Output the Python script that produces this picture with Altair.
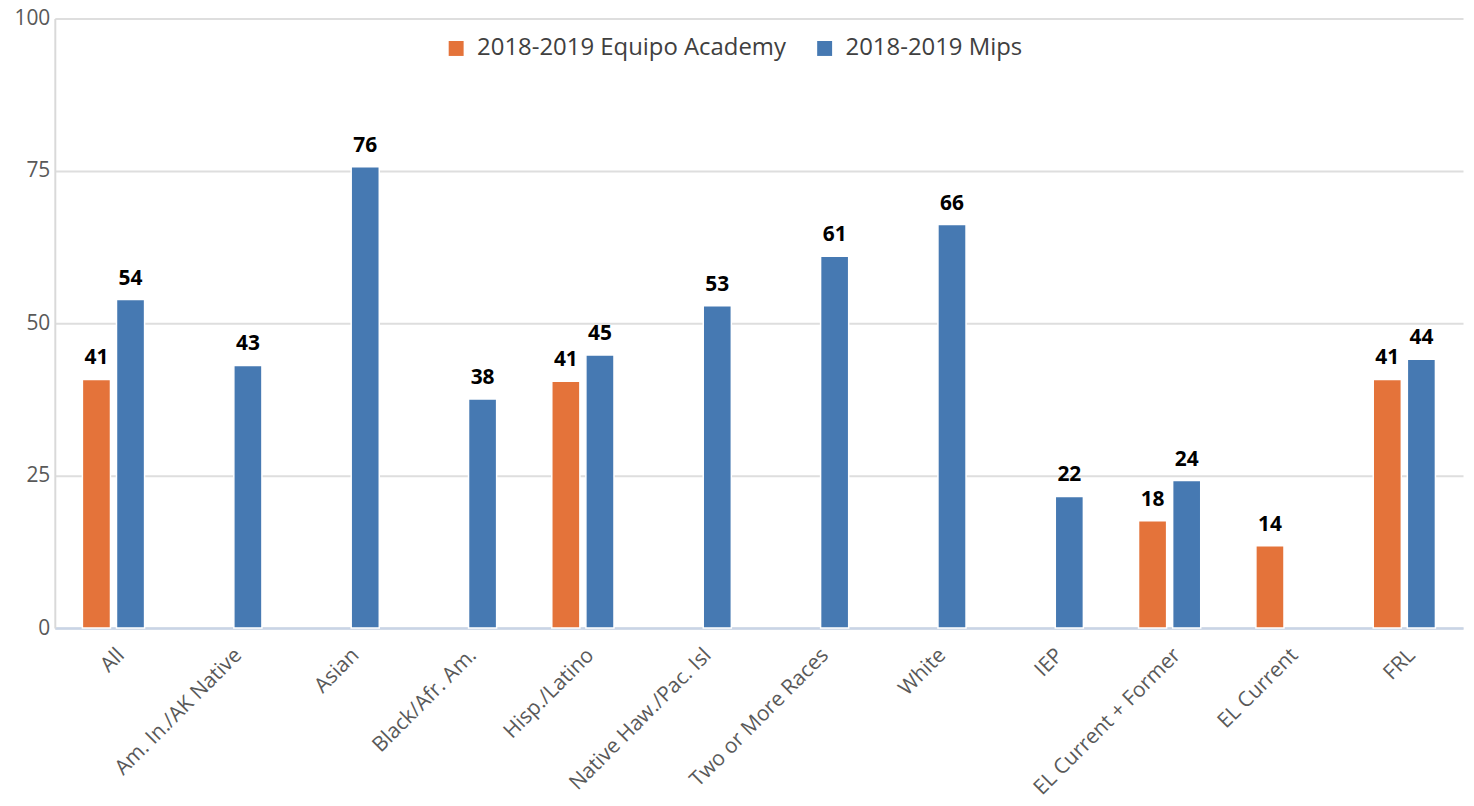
import altair as alt
import pandas as pd

categories = ["All", "Am. In./AK Native", "Asian", "Black/Afr. Am.", "Hisp./Latino",
              "Native Haw./Pac. Isl", "Two or More Races", "White", "IEP",
              "EL Current + Former", "EL Current", "FRL"]
academy = [40.8, None, None, None, 40.5, None, None, None, None, 17.6, 13.5, 40.8]
mips = [53.9, 43.1, 75.7, 37.6, 44.8, 52.9, 61.0, 66.2, 21.6, 24.2, None, 44.1]
series_names = ["2018-2019 Equipo Academy", "2018-2019 Mips"]
colors = ["#E4733A", "#4679B2"]

rows = []
for c, a, m in zip(categories, academy, mips):
    if a is not None:
        rows.append({"cat": c, "series": series_names[0], "value": a})
    if m is not None:
        rows.append({"cat": c, "series": series_names[1], "value": m})
df = pd.DataFrame(rows)

FONT = "Open Sans"

x = alt.X("cat:N", sort=categories, title=None,
          scale=alt.Scale(paddingInner=0.47, paddingOuter=0.235),
          axis=alt.Axis(labelAngle=-45, labelFontSize=21, labelColor="#595959",
                        labelFont=FONT, ticks=False, domainColor="#C9D4E6",
                        domainWidth=2.5, labelPadding=16, labelLimit=400))
y = alt.Y("value:Q", title=None,
          scale=alt.Scale(domain=[0, 100]),
          axis=alt.Axis(values=[0, 25, 50, 75, 100], labelFontSize=21,
                        labelColor="#595959", labelFont=FONT, ticks=False,
                        domainColor="#D9D9D9", domainWidth=2,
                        gridColor="#DEDEDE", gridWidth=2, labelPadding=5))
xo = alt.XOffset("series:N", sort=series_names,
                 scale=alt.Scale(paddingInner=0.176))

base = alt.Chart(df).encode(x=x, xOffset=xo)

bars = base.mark_bar(stroke="white", strokeWidth=1.5).encode(
    y=y,
    color=alt.Color("series:N", sort=series_names,
                    scale=alt.Scale(domain=series_names, range=colors),
                    legend=alt.Legend(title=None, orient="none", direction="horizontal",
                                      legendX=391, legendY=18,
                                      symbolType="square", symbolSize=225,
                                      symbolStrokeWidth=0, symbolOffset=0,
                                      labelFontSize=24, labelColor="#404040",
                                      labelFont=FONT, columnPadding=26,
                                      labelOffset=9, labelLimit=500))
)

labels = base.mark_text(baseline="alphabetic", dy=-15, fontSize=21, fontWeight="bold",
                        font=FONT, color="black").encode(
    y=alt.Y("value:Q"),
    text=alt.Text("value:Q", format=".0f")
)

chart = (bars + labels).properties(
    width=1414, height=612,
    autosize=alt.AutoSizeParams(type="none"),
    padding={"left": 47, "top": 9, "right": 3, "bottom": 175}
).configure_view(stroke=None).configure_axis(grid=True).configure_axisX(grid=False)

chart.save("out.html", embed_options={"renderer": "svg", "actions": False})
